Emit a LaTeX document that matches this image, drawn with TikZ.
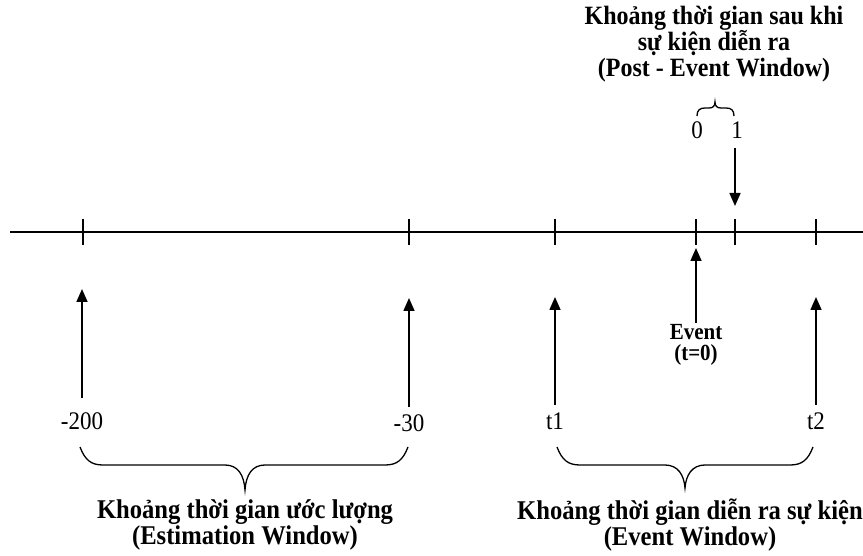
\documentclass[tikz,border=0pt]{standalone}
\usepackage{fontspec}
\setmainfont{Liberation Serif}
\usetikzlibrary{arrows.meta}
% slightly tall lettering
\newcommand{\tallline}[1]{\scalebox{1}[1.1]{#1}}
\begin{document}
\lineskiplimit=-100pt\relax
\begin{tikzpicture}[x=1pt,y=-1pt,
  axisline/.style={line width=1.4pt},
  tickmark/.style={line width=1.4pt},
  pointer/.style={line width=1.6pt,-{Triangle[width=11pt,length=13pt]}},
  bracecurve/.style={line width=1.3pt},
  numlabel/.style={font=\fontsize{23}{24}\selectfont, inner sep=0pt},
  title/.style={font=\bfseries\fontsize{24}{26}\selectfont, align=center, inner sep=0pt},
  bigtitle/.style={title, font=\bfseries\fontsize{24.6}{25.5}\selectfont},
  eventlabel/.style={font=\bfseries\fontsize{21}{21}\selectfont, align=center, inner sep=0pt}]
\useasboundingbox (0,0) rectangle (863,556);

% time axis
\coordinate (axisL) at (10,232);
\coordinate (axisR) at (863,232);
\draw[axisline] (axisL) -- (axisR);

% tick marks
\foreach \n/\x in {m200/83, m30/409, t1/555, ev/696, one/735, t2/816}{
  \coordinate (tk\n top) at (\x,219);
  \coordinate (tk\n bot) at (\x,245);
  \draw[tickmark] (tk\n top) -- (tk\n bot);
}

% tick labels
\node[numlabel] (lm200) at (82,421) {\tallline{-200}};
\node[numlabel] (lm30) at (409,423) {\tallline{-30}};
\node[numlabel] (lt1) at (555,421) {\tallline{t1}};
\node[numlabel] (lt2) at (816,421) {\tallline{t2}};
\node[numlabel] (lzero) at (697,130) {\tallline{0}};
\node[numlabel] (lone) at (737,130) {\tallline{1}};
\node[eventlabel] (levent) at (696,345) {\tallline{Event}\\\tallline{(t=0)}};

% pointer arrows
\coordinate (sm200) at (82,398);  \coordinate (hm200) at (82,289);
\coordinate (sm30) at (409,407);  \coordinate (hm30) at (409,298);
\coordinate (st1) at (555,405);   \coordinate (ht1) at (555,297);
\coordinate (st2) at (816,405);   \coordinate (ht2) at (816,297);
\coordinate (sev) at (696,323);   \coordinate (hev) at (696,248);
\coordinate (sone) at (735,148);  \coordinate (hone) at (735,206);
\foreach \n in {m200, m30, t1, t2, ev, one}{
  \draw[pointer] (s\n) -- (h\n);
}

% titles
\node[title] (tpost) at (714,44) {\tallline{Khoảng thời gian sau khi}\\\tallline{sự kiện diễn ra}\\\tallline{(Post - Event Window)}};
\node[bigtitle] (test) at (245,525) {\tallline{Khoảng thời gian ước lượng}\\\tallline{(Estimation Window)}};
\node[bigtitle] (tevent) at (690,525) {\tallline{Khoảng thời gian diễn ra sự kiện}\\\tallline{(Event Window)}};

% brace under the estimation window
\draw[bracecurve] (80,447) .. controls (85,460) and (91,465) .. (103,465) -- (225,465)
  .. controls (238,465) and (244,475) .. (245,490)
  .. controls (246,475) and (252,465) .. (265,465) -- (385,465)
  .. controls (397,465) and (403,460) .. (408,447);

% brace under the event window
\draw[bracecurve] (557,447) .. controls (562,460) and (568,465) .. (580,465) -- (665,465)
  .. controls (678,465) and (684,475) .. (685,488)
  .. controls (686,475) and (692,465) .. (705,465) -- (790,465)
  .. controls (802,465) and (808,460) .. (813,447);

% small brace over the post-event window
\draw[bracecurve] (697,116) .. controls (697,110) and (700,108) .. (705,108) -- (709,108)
  .. controls (713,108) and (715,106) .. (715,102)
  .. controls (715,106) and (717,108) .. (721,108) -- (726,108)
  .. controls (731,108) and (734,110) .. (734,116);
\end{tikzpicture}
\end{document}
